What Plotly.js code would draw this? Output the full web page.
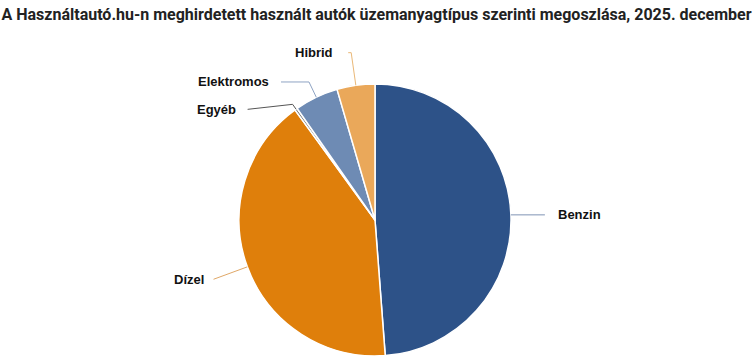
<!DOCTYPE html>
<html>
<head>
<meta charset="utf-8">
<script src="https://cdn.plot.ly/plotly-3.0.1.min.js"></script>
<style>html,body{margin:0;padding:0;background:#fff;}#chart{width:752px;height:364px;}</style>
</head>
<body>
<div id="chart"></div>
<script>
// ---- data ----
const categories = ["Benzin", "Dízel", "Egyéb", "Elektromos", "Hibrid"];
const shares = [48.8, 41.2, 0.3, 5.2, 4.5];
const colors = ["#2d5288", "#df7f0b", "#6f6f6f", "#6e8bb4", "#eaa85a"];
const lineColors = ["#7f93b5", "#e0a868", "#555555", "#8ea3c3", "#eab877"];

// ---- label layout (style, not data) ----
const labelStyle = [
  {d: 0,  endDx: 34,  dy: 0,  gap: 11},
  {d: 36, endDx: 0,   dy: 0,  gap: 8},
  {d: 6,  endDx: -45, dy: 5,  gap: 10},
  {d: 17, endDx: -28, dy: 0,  gap: 10},
  {d: 33, endDx: -3,  dy: 0,  gap: 13}
];

const W = 752, H = 364;
const padTop = 84, padBottom = 8, padRight = 2;
const domY = [padBottom / H, 1 - padTop / H];
const domX = [0, 1 - padRight / W];
const cx = (W - padRight) / 2;
const plotH = H - padTop - padBottom;
const R = Math.min(W - padRight, plotH) / 2;
const cy = padTop + plotH / 2;

const total = shares.reduce((a, b) => a + b, 0);
const shapes = [], annotations = [];
let cum = 0;
const px = x => x / W, py = y => 1 - y / H;
shares.forEach((v, i) => {
  const mid = (cum + v / 2) / total * 2 * Math.PI;
  cum += v;
  const dx = Math.sin(mid), dy = -Math.cos(mid);
  const s = labelStyle[i];
  const x0 = cx + R * dx, y0 = cy + R * dy;
  const x1 = cx + (R + s.d) * dx, y1 = cy + (R + s.d) * dy;
  const x2 = x1 + s.endDx, y2 = y1 + s.dy;
  const path = `M${px(x0)},${py(y0)} L${px(x1)},${py(y1)} L${px(x2)},${py(y2)}`;
  shapes.push({type: 'path', xref: 'paper', yref: 'paper', path: path,
    line: {color: lineColors[i], width: 1}});
  const right = dx > 0;
  annotations.push({
    xref: 'paper', yref: 'paper', showarrow: false,
    x: px(x2 + (right ? s.gap : -s.gap)), y: py(y2),
    xanchor: right ? 'left' : 'right', yanchor: 'middle',
    text: '<b>' + categories[i] + '</b>',
    font: {family: 'Liberation Sans, Arial, sans-serif', size: 13, color: '#111'}
  });
});

const trace = {
  type: 'pie',
  labels: categories,
  values: shares,
  sort: false,
  direction: 'clockwise',
  rotation: 0,
  textinfo: 'none',
  hoverinfo: 'label+percent',
  marker: {colors: colors, line: {color: '#ffffff', width: 1.5}},
  domain: {x: domX, y: domY},
  showlegend: false
};

const layout = {
  width: W, height: H,
  margin: {l: 0, r: 0, t: 0, b: 0},
  paper_bgcolor: '#ffffff',
  title: {
    text: '<b>A Használtautó.hu-n meghirdetett használt autók üzemanyagtípus szerinti megoszlása, 2025. december</b>',
    x: 0.002, xanchor: 'left', xref: 'paper',
    y: 1 - 14 / H, yanchor: 'middle', yref: 'container',
    font: {family: 'Roboto, sans-serif', size: 16, color: '#222'}
  },
  shapes: shapes,
  annotations: annotations,
  showlegend: false
};

Plotly.newPlot('chart', [trace], layout, {displayModeBar: false, staticPlot: true});
</script>
</body>
</html>
